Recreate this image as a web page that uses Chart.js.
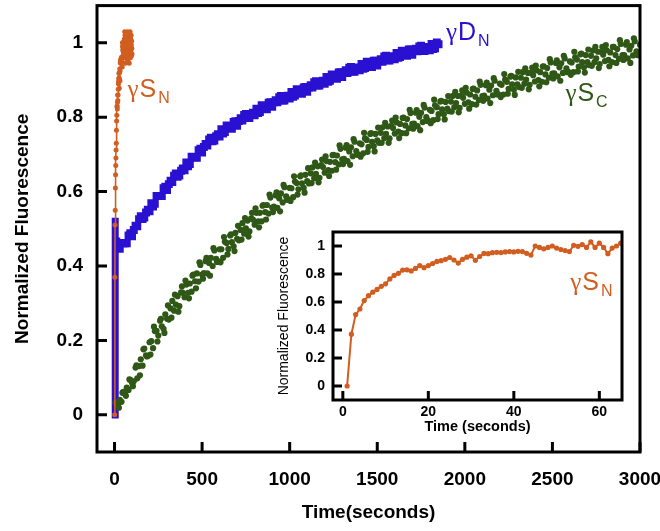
<!DOCTYPE html>
<html>
<head>
<meta charset="utf-8">
<script src="https://cdn.jsdelivr.net/npm/chart.js@4.4.1/dist/chart.umd.min.js"></script>
<style>
  body { margin: 0; background: #fff; }
  #wrap { position: relative; width: 660px; height: 531px; }
  #main { position: absolute; left: 0; top: 0; }
  #inset { position: absolute; left: 270px; top: 222px; }
</style>
</head>
<body>
<div id="wrap">
  <canvas id="main" width="660" height="531"></canvas>
  <canvas id="inset" width="365" height="218"></canvas>
</div>
<script>
const xTicksMain = [0, 500, 1000, 1500, 2000, 2500, 3000];
const yTicks = [0, 0.2, 0.4, 0.6, 0.8, 1];
const xTicksInset = [0, 20, 40, 60];

// gamma S_N : one reading per second, starting at t = 1 s
const snStart = 1, snStep = 1;
const snValues = [
  0.000, 0.370, 0.510, 0.550, 0.610, 0.645, 0.670, 0.690, 0.712, 0.730,
  0.765, 0.790, 0.805, 0.828, 0.830, 0.822, 0.840, 0.860, 0.845, 0.860,
  0.875, 0.890, 0.895, 0.905, 0.918, 0.900, 0.878, 0.905, 0.920, 0.930,
  0.898, 0.925, 0.947, 0.945, 0.952, 0.955, 0.953, 0.958, 0.960, 0.958,
  0.962, 0.960, 0.948, 0.935, 1.000, 0.990, 0.980, 0.990, 1.000, 0.985,
  0.975, 0.968, 0.960, 1.005, 0.998, 1.010, 0.990, 1.030, 0.990, 1.020,
  0.990, 0.945, 0.985, 1.000, 1.020, 1.005, 0.985, 1.025, 0.970, 1.000,
  0.960, 1.015, 0.990, 1.030, 0.975, 0.955, 1.010, 0.995, 1.020, 0.965,
  0.990, 1.025, 0.980, 0.945, 1.000, 1.015, 0.970, 0.995, 1.030, 0.985,
  0.960, 1.010, 0.990, 0.975, 1.020, 0.995, 0.965, 1.005, 0.985, 0.970
];

// gamma S_C : readings every 10 s from t = 10 s ...
const scStart = 10, scStep = 10;
const scValues = [
  0.029, 0.024, 0.040, 0.035, 0.062, 0.058, 0.073, 0.067, 0.094, 0.086,
  0.090, 0.127, 0.098, 0.131, 0.149, 0.132, 0.178, 0.160, 0.158, 0.195,
  0.198, 0.179, 0.225, 0.226, 0.213, 0.253, 0.238, 0.231, 0.270, 0.258,
  0.256, 0.286, 0.306, 0.280, 0.296, 0.319, 0.292, 0.329, 0.328, 0.316,
  0.350, 0.328, 0.353, 0.331, 0.377, 0.359, 0.380, 0.358, 0.403, 0.377,
  0.381, 0.413, 0.380, 0.408, 0.422, 0.400, 0.442, 0.419, 0.413, 0.445,
  0.445, 0.422, 0.465, 0.462, 0.446, 0.482, 0.464, 0.453, 0.489, 0.473,
  0.469, 0.497, 0.515, 0.487, 0.501, 0.522, 0.493, 0.528, 0.525, 0.511,
  0.543, 0.520, 0.543, 0.520, 0.564, 0.545, 0.564, 0.541, 0.584, 0.557,
  0.560, 0.590, 0.556, 0.582, 0.595, 0.571, 0.612, 0.587, 0.580, 0.610,
  0.609, 0.585, 0.627, 0.623, 0.606, 0.641, 0.622, 0.610, 0.645, 0.628,
  0.622, 0.649, 0.665, 0.636, 0.648, 0.668, 0.637, 0.671, 0.666, 0.651,
  0.682, 0.658, 0.680, 0.656, 0.699, 0.679, 0.697, 0.673, 0.715, 0.687,
  0.688, 0.718, 0.682, 0.708, 0.719, 0.695, 0.734, 0.709, 0.700, 0.730,
  0.727, 0.703, 0.743, 0.739, 0.720, 0.755, 0.734, 0.722, 0.755, 0.738,
  0.731, 0.758, 0.773, 0.744, 0.755, 0.775, 0.743, 0.777, 0.771, 0.756,
  0.786, 0.761, 0.782, 0.757, 0.799, 0.778, 0.795, 0.770, 0.811, 0.782,
  0.783, 0.812, 0.776, 0.801, 0.812, 0.787, 0.826, 0.800, 0.791, 0.820,
  0.817, 0.792, 0.832, 0.827, 0.808, 0.842, 0.821, 0.808, 0.841, 0.823,
  0.816, 0.842, 0.857, 0.827, 0.838, 0.857, 0.825, 0.858, 0.852, 0.836,
  0.866, 0.840, 0.861, 0.835, 0.877, 0.855, 0.872, 0.846, 0.887, 0.857,
  0.858, 0.886, 0.850, 0.874, 0.885, 0.859, 0.898, 0.871, 0.862, 0.890,
  0.887, 0.861, 0.901, 0.895, 0.876, 0.909, 0.888, 0.874, 0.907, 0.888,
  0.881, 0.906, 0.921, 0.890, 0.901, 0.919, 0.887, 0.919, 0.913, 0.896,
  0.926, 0.900, 0.921, 0.895, 0.937, 0.915, 0.932, 0.906, 0.947, 0.917,
  0.918, 0.946, 0.910, 0.934, 0.945, 0.919, 0.958, 0.931, 0.922, 0.950,
  0.947, 0.921, 0.961, 0.955, 0.936, 0.969, 0.948, 0.934, 0.967, 0.948,
  0.940, 0.965, 0.979, 0.948, 0.958, 0.976, 0.943, 0.975, 0.968, 0.951,
  0.980, 0.954, 0.974, 0.948, 0.989, 0.967, 0.983, 0.957, 0.997, 0.967,
  0.967, 0.995, 0.958, 0.982, 0.992, 0.966, 1.004, 0.977, 0.967, 0.995
];
// ... and the interleaved readings every 20 s from t = 5 s
const scStartB = 5, scStepB = 20;
const scValuesB = [
  0.033, 0.019, 0.059, 0.051, 0.095, 0.077, 0.133, 0.106, 0.176, 0.157,
  0.162, 0.237, 0.197, 0.258, 0.220, 0.294, 0.261, 0.323, 0.277, 0.345,
  0.361, 0.313, 0.374, 0.340, 0.410, 0.366, 0.422, 0.374, 0.448, 0.411,
  0.410, 0.478, 0.431, 0.485, 0.440, 0.508, 0.471, 0.529, 0.479, 0.543,
  0.555, 0.504, 0.562, 0.525, 0.592, 0.545, 0.598, 0.547, 0.618, 0.578,
  0.575, 0.641, 0.592, 0.644, 0.597, 0.663, 0.623, 0.678, 0.625, 0.686,
  0.695, 0.642, 0.698, 0.659, 0.724, 0.674, 0.725, 0.672, 0.741, 0.699,
  0.694, 0.758, 0.707, 0.757, 0.708, 0.772, 0.731, 0.785, 0.731, 0.791,
  0.799, 0.744, 0.798, 0.757, 0.820, 0.769, 0.819, 0.765, 0.833, 0.790,
  0.784, 0.847, 0.795, 0.844, 0.794, 0.857, 0.815, 0.868, 0.813, 0.872,
  0.879, 0.823, 0.876, 0.834, 0.896, 0.844, 0.893, 0.838, 0.905, 0.861,
  0.854, 0.916, 0.863, 0.911, 0.860, 0.922, 0.879, 0.931, 0.875, 0.933,
  0.939, 0.883, 0.936, 0.894, 0.956, 0.904, 0.953, 0.898, 0.965, 0.921,
  0.914, 0.976, 0.923, 0.971, 0.920, 0.982, 0.938, 0.989, 0.932, 0.989,
  0.994, 0.937, 0.989, 0.946, 1.007, 0.954, 1.002, 0.946, 1.012, 0.967
];

// gamma D_N : dead-time jump, then readings every 20 s from t = 10 s and t = 20 s
const dnJumpTimes = [4, 4];
const dnJumpValues = [-0.01, 0.53];
const dnStart = 10, dnStep = 20;
const dnValues = [
  0.466, 0.446, 0.461, 0.461, 0.488, 0.497, 0.507, 0.534, 0.530, 0.551,
  0.569, 0.567, 0.588, 0.588, 0.613, 0.620, 0.626, 0.649, 0.643, 0.662,
  0.678, 0.674, 0.693, 0.691, 0.715, 0.720, 0.724, 0.745, 0.737, 0.754,
  0.768, 0.760, 0.775, 0.769, 0.789, 0.790, 0.791, 0.809, 0.798, 0.812,
  0.823, 0.814, 0.828, 0.821, 0.840, 0.840, 0.840, 0.857, 0.845, 0.858,
  0.868, 0.858, 0.871, 0.863, 0.881, 0.880, 0.880, 0.897, 0.885, 0.898,
  0.908, 0.898, 0.911, 0.903, 0.921, 0.920, 0.919, 0.935, 0.922, 0.934,
  0.943, 0.932, 0.944, 0.935, 0.952, 0.950, 0.949, 0.965, 0.952, 0.964,
  0.973, 0.962, 0.974, 0.965, 0.982, 0.979, 0.977, 0.992, 0.978, 0.989,
  0.997, 0.985, 0.996
];
const dnStartB = 20, dnStepB = 20;
const dnValuesB = [
  0.448, 0.462, 0.461, 0.482, 0.480, 0.508, 0.526, 0.526, 0.544, 0.547,
  0.560, 0.588, 0.588, 0.609, 0.604, 0.629, 0.643, 0.640, 0.656, 0.657,
  0.668, 0.694, 0.692, 0.711, 0.705, 0.728, 0.740, 0.735, 0.749, 0.748,
  0.756, 0.778, 0.772, 0.787, 0.777, 0.797, 0.806, 0.798, 0.809, 0.805,
  0.811, 0.832, 0.825, 0.839, 0.828, 0.846, 0.854, 0.845, 0.855, 0.850,
  0.855, 0.875, 0.867, 0.880, 0.868, 0.886, 0.894, 0.885, 0.895, 0.890,
  0.895, 0.915, 0.907, 0.920, 0.908, 0.926, 0.933, 0.923, 0.932, 0.926,
  0.930, 0.949, 0.940, 0.952, 0.939, 0.956, 0.963, 0.953, 0.962, 0.956,
  0.960, 0.979, 0.970, 0.982, 0.968, 0.984, 0.990, 0.979, 0.987, 0.980,
  0.983, 1.001
];

const orange = '#d15e20';
const blue = '#2a10d0';
const green = '#2f5817';
const fam = '"Liberation Sans", Arial, sans-serif';

const toPoints = (start, step, vals) => vals.map((v, i) => ({ x: start + i * step, y: v }));
const snData = toPoints(snStart, snStep, snValues);
const scData = toPoints(scStart, scStep, scValues).concat(toPoints(scStartB, scStepB, scValuesB));
const dnData = toPoints(dnStart, dnStep, dnValues).concat(toPoints(dnStartB, dnStepB, dnValuesB));
const dnJump = dnJumpTimes.map((t, i) => ({ x: t, y: dnJumpValues[i] }));

function drawSpecies(ctx, px, py, l) {
  ctx.save();
  ctx.fillStyle = l.color;
  ctx.textAlign = 'left';
  ctx.textBaseline = 'alphabetic';
  ctx.font = '25px "Liberation Serif"';
  ctx.fillText('γ', px, py);
  let x = px + ctx.measureText('γ').width + 1;
  ctx.font = '25px "Liberation Sans"';
  ctx.fillText(l.main, x, py);
  x += ctx.measureText(l.main).width + 2;
  ctx.font = '16px "Liberation Sans"';
  ctx.fillText(l.sub, x, py + 6);
  ctx.restore();
}

function framePlugin(opts) {
  return {
    id: 'frame',
    beforeDraw(chart) {
      const { ctx, chartArea: a } = chart;
      ctx.save();
      ctx.fillStyle = '#fff';
      ctx.fillRect(a.left, a.top, a.right - a.left, a.bottom - a.top);
      ctx.restore();
    },
    afterDraw(chart) {
      const { ctx, chartArea: a, scales } = chart;
      ctx.save();
      ctx.strokeStyle = '#000';
      ctx.lineWidth = 3;
      ctx.beginPath();
      scales.x.ticks.forEach(t => {
        const px = scales.x.getPixelForValue(t.value);
        ctx.moveTo(px, a.bottom);
        ctx.lineTo(px, a.bottom - opts.tick);
      });
      scales.y.ticks.forEach(t => {
        const py = scales.y.getPixelForValue(t.value);
        ctx.moveTo(a.left, py);
        ctx.lineTo(a.left + opts.tick, py);
      });
      ctx.stroke();
      ctx.strokeRect(a.left, a.top, a.right - a.left, a.bottom - a.top);
      ctx.restore();
      opts.labels.forEach(l => drawSpecies(ctx, scales.x.getPixelForValue(l.x), scales.y.getPixelForValue(l.y), l));
    }
  };
}

function axis(min, max, tickVals, fit, tickFont, pad, title) {
  return {
    type: 'linear', min, max,
    afterBuildTicks: s => { s.ticks = tickVals.map(v => ({ value: v })); },
    afterFit: s => {
      if (s.isHorizontal()) s.height = fit; else s.width = fit;
      s.paddingLeft = 0; s.paddingRight = 0; s.paddingTop = 0; s.paddingBottom = 0;
    },
    grid: { display: false, drawTicks: false },
    border: { display: false },
    ticks: { color: '#000', font: tickFont, padding: pad, autoSkip: false, maxRotation: 0, callback: v => String(v) },
    title: title
  };
}

new Chart(document.getElementById('main'), {
  type: 'scatter',
  data: {
    datasets: [
      { type: 'line', data: snData, borderColor: orange, borderWidth: 1.6, pointRadius: 2.5,
        pointBackgroundColor: orange, pointBorderWidth: 0, tension: 0 },
      { data: scData, backgroundColor: green, pointRadius: 3.1, pointBorderWidth: 0 },
      { type: 'line', data: dnJump, borderColor: blue, borderWidth: 7, borderCapStyle: 'butt', pointRadius: 0 },
      { data: dnData, backgroundColor: blue, pointStyle: 'rect', pointRadius: 5.6, pointBorderWidth: 0 }
    ]
  },
  options: {
    responsive: false,
    animation: false,
    layout: { padding: { top: 3, right: 20, left: 0, bottom: 0 } },
    plugins: { legend: { display: false }, tooltip: { enabled: false } },
    scales: {
      x: axis(-100, 3000, xTicksMain, 79, { family: fam, size: 19, weight: 'bold' }, 16,
        { display: true, text: 'Time(seconds)', color: '#000', font: { family: fam, size: 19, weight: 'bold' }, padding: { top: 0, bottom: 7 } }),
      y: axis(-0.1, 1.1, yTicks, 97, { family: fam, size: 19, weight: 'bold' }, 14,
        { display: true, text: 'Normalized Fluorescence', color: '#000', font: { family: fam, size: 19, weight: 'bold' }, padding: { top: 11, bottom: 0 } })
    }
  },
  plugins: [framePlugin({ tick: 10, labels: [
    { x: 74, y: 0.853, main: 'S', sub: 'N', color: orange },
    { x: 1892, y: 1.008, main: 'D', sub: 'N', color: blue },
    { x: 2574, y: 0.843, main: 'S', sub: 'C', color: green }
  ] })]
});

new Chart(document.getElementById('inset'), {
  type: 'line',
  data: {
    datasets: [
      { data: snData, borderColor: orange, borderWidth: 2, pointRadius: 2.6,
        pointBackgroundColor: orange, pointBorderWidth: 0, tension: 0 }
    ]
  },
  options: {
    responsive: false,
    animation: false,
    layout: { padding: { top: 10, right: 13, left: 0, bottom: 0 } },
    plugins: { legend: { display: false }, tooltip: { enabled: false } },
    scales: {
      x: axis(-2.3, 65.3, xTicksInset, 40, { family: fam, size: 14, weight: 'bold' }, 4,
        { display: true, text: 'Time (seconds)', color: '#000', font: { family: fam, size: 14.5, weight: 'bold' }, padding: { top: 0, bottom: 4 } }),
      y: axis(-0.1, 1.1, yTicks, 63, { family: fam, size: 14, weight: 'bold' }, 8,
        { display: true, text: 'Normalized Fluorescence', color: '#000', font: { family: fam, size: 14 }, padding: { top: 6, bottom: 0 } })
    }
  },
  plugins: [framePlugin({ tick: 9, labels: [
    { x: 53.2, y: 0.683, main: 'S', sub: 'N', color: orange }
  ] })]
});
</script>
</body>
</html>
